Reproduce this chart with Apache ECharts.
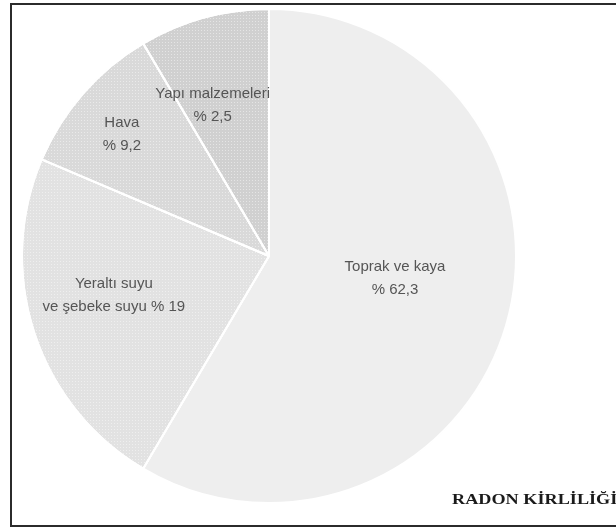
<!DOCTYPE html>
<html>
<head>
	<meta charset="utf-8">
	<title>Radon kirliliği</title>
	<script src="https://cdn.jsdelivr.net/npm/echarts@6/dist/echarts.min.js"></script>
	<style>
		html, body { margin: 0; padding: 0; background: #fff; }
		#main { width: 616px; height: 529px; }
	</style>
</head>
<body>
<div id="main"></div>
<script>
    // dilim adları ve resimdeki etiket metinleri
    var names = ['Toprak ve kaya', 'Yeraltı suyu\nve şebeke suyu', 'Hava', 'Yapı malzemeleri'];
    var labelTexts = ['Toprak ve kaya\n% 62,3', 'Yeraltı suyu\nve şebeke suyu % 19', 'Hava\n% 9,2', 'Yapı malzemeleri\n% 2,5'];
    // dilim açılarından okunan paylar (resimde çizildiği gibi)
    var values = [58.5, 22.9, 10.1, 8.5];

    var fills = ['#eeeeee', '#e2e2e2', '#d9d9d9', '#d0d0d0'];
    var offsets = [[4, -11], [-35, 0], [-52, -38], [-23, -29]];

    var chart = echarts.init(document.getElementById('main'));

    var pieData = [];
    for (var i = 0; i < names.length; i++) {
        pieData.push({
            name: names[i],
            value: values[i],
            itemStyle: {
                color: fills[i],
                decal: i == 0 ? null : {
                    symbol: 'rect',
                    symbolSize: 1,
                    dashArrayX: [1, 2],
                    dashArrayY: [1, 2],
                    color: 'rgba(255,255,255,0.45)'
                }
            },
            label: {
                formatter: labelTexts[i],
                offset: offsets[i]
            }
        });
    }

    chart.setOption({
        backgroundColor: '#ffffff',
        animation: false,
        graphic: [
            {
                type: 'rect',
                shape: { x: 11, y: 4, width: 620, height: 522 },
                style: { fill: 'none', stroke: '#2b2b2b', lineWidth: 2 },
                z: 10
            },
            {
                type: 'text',
                left: 452,
                top: 493,
                scaleX: 1.3,
                style: {
                    text: 'RADON KİRLİLİĞİ',
                    fill: '#1a1a1a',
                    font: 'bold 14px "Liberation Serif", "DejaVu Serif", serif'
                },
                z: 10
            }
        ],
        series: [
            {
                type: 'pie',
                center: [269, 256],
                radius: 247,
                startAngle: 90,
                clockwise: true,
                avoidLabelOverlap: false,
                itemStyle: {
                    borderColor: '#ffffff',
                    borderWidth: 2
                },
                label: {
                    show: true,
                    position: 'inside',
                    color: '#555555',
                    fontSize: 15,
                    lineHeight: 23,
                    fontFamily: '"Liberation Sans", Arial, sans-serif',
                    align: 'center'
                },
                labelLine: { show: false },
                emphasis: { disabled: true },
                data: pieData
            }
        ]
    });
    window.onresize = chart.resize;
</script>
</body>
</html>
